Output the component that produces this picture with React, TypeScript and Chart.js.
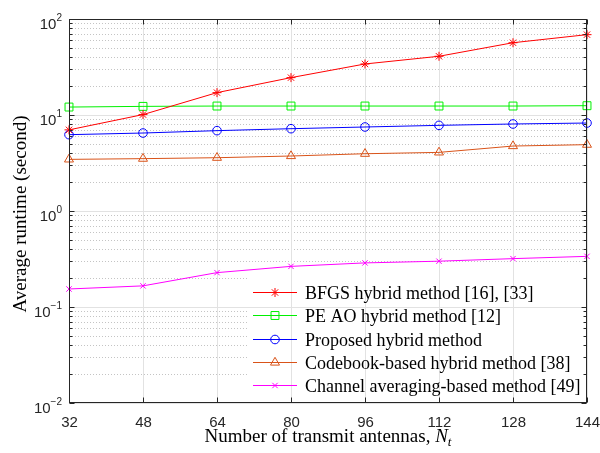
import { useEffect, useRef } from 'react';
import { Chart, registerables } from 'chart.js';
import { drawPoint } from 'chart.js/helpers';

Chart.register(...registerables);

// Number of transmit antennas N_t
const antennas = [32, 48, 64, 80, 96, 112, 128, 144];

// Average runtime in seconds for each method
const bfgsRuntime = [7.0, 10.1, 17.1, 24.5, 34.0, 40.9, 56.6, 68.7];
const peAoRuntime = [12.1, 12.3, 12.4, 12.4, 12.4, 12.4, 12.4, 12.5];
const proposedRuntime = [6.24, 6.49, 6.87, 7.2, 7.5, 7.8, 8.06, 8.25];
const codebookRuntime = [3.45, 3.51, 3.59, 3.74, 3.95, 4.08, 4.75, 4.91];
const channelAvgRuntime = [0.154, 0.166, 0.228, 0.265, 0.288, 0.3, 0.319, 0.337];

const seriesLabels = [
  'BFGS hybrid method [16], [33]',
  'PE AO hybrid method [12]',
  'Proposed hybrid method',
  'Codebook-based hybrid method [38]',
  'Channel averaging-based method [49]',
];

const xTickValues = [32, 48, 64, 80, 96, 112, 128, 144];
const yDecadeExponents = [-2, -1, 0, 1, 2];

const xTitle = 'Number of transmit antennas, ';
const yTitle = 'Average runtime (second)';

const seriesValues = [bfgsRuntime, peAoRuntime, proposedRuntime, codebookRuntime, channelAvgRuntime];
const seriesStyles = [
  { color: '#ff0000', pointStyle: 'star', radius: 4.5 },
  { color: '#00f000', pointStyle: 'rect', radius: 5.6 },
  { color: '#0000ff', pointStyle: 'circle', radius: 4.3 },
  { color: '#d95319', pointStyle: 'triangle', radius: 5.2 },
  { color: '#ff00ff', pointStyle: 'crossRot', radius: 3.8 },
];

const AXIS_COLOR = '#262626';
const MAJOR_GRID = '#e2e2e2';
const MINOR_GRID = '#c4c4c4';
const SANS = '"Liberation Sans", Arial, sans-serif';
const SERIF = '"Liberation Serif", "Times New Roman", serif';

const LEGEND_BOX = { left: 248, top: 272 };

function hLine(ctx: CanvasRenderingContext2D, x0: number, x1: number, y: number) {
  ctx.beginPath();
  ctx.moveTo(x0, y);
  ctx.lineTo(x1, y);
  ctx.stroke();
}
function vLine(ctx: CanvasRenderingContext2D, x: number, y0: number, y1: number) {
  ctx.beginPath();
  ctx.moveTo(x, y0);
  ctx.lineTo(x, y1);
  ctx.stroke();
}

function drawMajorGrid(chart: any) {
  const { ctx, chartArea: a, scales } = chart;
  const { x, y } = scales;
  ctx.strokeStyle = MAJOR_GRID;
  ctx.lineWidth = 1;
  ctx.setLineDash([]);
  for (const e of yDecadeExponents) {
    const py = Math.round(y.getPixelForValue(10 ** e)) + 0.5;
    hLine(ctx, a.left, a.right, py);
  }
  for (const v of xTickValues) {
    const px = Math.round(x.getPixelForValue(v)) + 0.5;
    vLine(ctx, px, a.top, a.bottom);
  }
}

const matlabAxes = {
  id: 'matlabAxes',
  beforeDatasetsDraw(chart: any) {
    const { ctx, chartArea: a, scales } = chart;
    const { y } = scales;
    ctx.save();
    ctx.strokeStyle = MINOR_GRID;
    ctx.lineWidth = 1;
    ctx.setLineDash([1, 2]);
    for (const e of yDecadeExponents.slice(0, -1)) {
      for (let m = 2; m <= 9; m++) {
        const py = Math.round(y.getPixelForValue(m * 10 ** e)) + 0.5;
        hLine(ctx, a.left, a.right, py);
      }
    }
    ctx.setLineDash([]);
    drawMajorGrid(chart);
    ctx.restore();
  },
  afterDatasetsDraw(chart: any) {
    const { ctx, chartArea: a, scales } = chart;
    const { x, y } = scales;
    ctx.save();

    // legend panel (white fill, major grid still visible through it)
    const lw = a.right - LEGEND_BOX.left;
    const lh = a.bottom - LEGEND_BOX.top;
    ctx.fillStyle = '#ffffff';
    ctx.fillRect(LEGEND_BOX.left, LEGEND_BOX.top, lw, lh);
    ctx.save();
    ctx.beginPath();
    ctx.rect(LEGEND_BOX.left, LEGEND_BOX.top, lw, lh);
    ctx.clip();
    drawMajorGrid(chart);
    ctx.restore();

    const rowY0 = 292;
    const rowGap = 23.3;
    const sampleX0 = 253;
    const sampleX1 = 297;
    ctx.font = `18px ${SERIF}`;
    ctx.textAlign = 'left';
    ctx.textBaseline = 'alphabetic';
    seriesLabels.forEach((label, i) => {
      const st = seriesStyles[i];
      const ry = Math.round(rowY0 + i * rowGap) + 0.5;
      ctx.strokeStyle = st.color;
      ctx.lineWidth = 1;
      hLine(ctx, sampleX0, sampleX1, ry);
      ctx.fillStyle = 'rgba(0,0,0,0)';
      drawPoint(ctx, { pointStyle: st.pointStyle as any, radius: st.radius, borderWidth: 1, rotation: 0 } as any, (sampleX0 + sampleX1) / 2, ry);
      ctx.fillStyle = '#000000';
      ctx.fillText(label, 305, ry + 6);
    });

    // axes box
    ctx.strokeStyle = AXIS_COLOR;
    ctx.lineWidth = 1;
    const L = Math.round(a.left) + 0.5;
    const R = Math.round(a.right) - 0.5;
    const T = Math.round(a.top) + 0.5;
    const B = Math.round(a.bottom) - 0.5;
    ctx.strokeRect(L, T, R - L, B - T);

    // x ticks (inward, top and bottom) and labels
    ctx.font = `15px ${SANS}`;
    ctx.fillStyle = AXIS_COLOR;
    ctx.textAlign = 'center';
    for (const v of xTickValues) {
      const px = Math.round(x.getPixelForValue(v)) + 0.5;
      vLine(ctx, px, B, B - 5);
      vLine(ctx, px, T, T + 5);
      ctx.fillText(String(v), px, a.bottom + 24);
    }

    // y ticks (major + minor, both sides) and labels 10^e
    for (const e of yDecadeExponents) {
      const py = Math.round(y.getPixelForValue(10 ** e)) + 0.5;
      hLine(ctx, L, L + 5, py);
      hLine(ctx, R, R - 5, py);
      if (e < yDecadeExponents[yDecadeExponents.length - 1]) {
        for (let m = 2; m <= 9; m++) {
          const my = Math.round(y.getPixelForValue(m * 10 ** e)) + 0.5;
          hLine(ctx, L, L + 3, my);
          hLine(ctx, R, R - 3, my);
        }
      }
      const tickY = y.getPixelForValue(10 ** e);
      const expText = String(e).replace('-', '\u2212');
      ctx.textAlign = 'right';
      ctx.font = `10px ${SANS}`;
      const expW = ctx.measureText(expText).width;
      ctx.fillText(expText, 62, tickY + 2);
      ctx.font = `15px ${SANS}`;
      ctx.fillText('10', 62 - expW, tickY + 10);
    }

    // axis titles
    ctx.fillStyle = '#000000';
    ctx.textAlign = 'left';
    ctx.font = `19px ${SERIF}`;
    const wMain = ctx.measureText(xTitle).width;
    ctx.font = `italic 19px ${SERIF}`;
    const wN = ctx.measureText('N').width;
    ctx.font = `italic 13px ${SERIF}`;
    const wT = ctx.measureText('t').width;
    const total = wMain + wN + wT;
    const x0 = 328 - total / 2;
    const baseY = 442;
    ctx.font = `19px ${SERIF}`;
    ctx.fillText(xTitle, x0, baseY);
    ctx.font = `italic 19px ${SERIF}`;
    ctx.fillText('N', x0 + wMain, baseY);
    ctx.font = `italic 13px ${SERIF}`;
    ctx.fillText('t', x0 + wMain + wN, baseY + 4);

    ctx.save();
    ctx.translate(21, 214);
    ctx.rotate(-Math.PI / 2);
    ctx.font = `19px ${SERIF}`;
    ctx.textAlign = 'center';
    ctx.textBaseline = 'middle';
    ctx.fillText(yTitle, 0, 0);
    ctx.restore();

    ctx.restore();
  },
};

export default function App() {
  const canvasRef = useRef<HTMLCanvasElement>(null);

  useEffect(() => {
    const canvas = canvasRef.current;
    if (!canvas) return;
    const chart = new Chart(canvas, {
      type: 'line',
      data: {
        datasets: seriesValues.map((vals, i) => ({
          label: seriesLabels[i],
          data: antennas.map((n, j) => ({ x: n, y: vals[j] })),
          borderColor: seriesStyles[i].color,
          backgroundColor: 'rgba(0,0,0,0)',
          borderWidth: 1,
          pointStyle: seriesStyles[i].pointStyle as any,
          pointRadius: seriesStyles[i].radius,
          pointBorderWidth: 1,
          pointBorderColor: seriesStyles[i].color,
          pointBackgroundColor: 'rgba(0,0,0,0)',
          tension: 0,
          clip: false as any,
        })),
      },
      options: {
        responsive: false,
        devicePixelRatio: 1,
        animation: false,
        events: [],
        layout: { padding: { left: 69, top: 19, right: 13, bottom: 50 } },
        scales: {
          x: { type: 'linear', min: 32, max: 144, display: false },
          y: { type: 'logarithmic', min: 0.01, max: 100, display: false },
        },
        plugins: {
          legend: { display: false },
          tooltip: { enabled: false },
        },
      },
      plugins: [matlabAxes],
    });
    return () => chart.destroy();
  }, []);

  return (
    <div style={{ position: 'fixed', left: 0, top: 0, width: 600, height: 453, background: '#ffffff' }}>
      <canvas ref={canvasRef} width={600} height={453} style={{ display: 'block', width: 600, height: 453 }} />
    </div>
  );
}
